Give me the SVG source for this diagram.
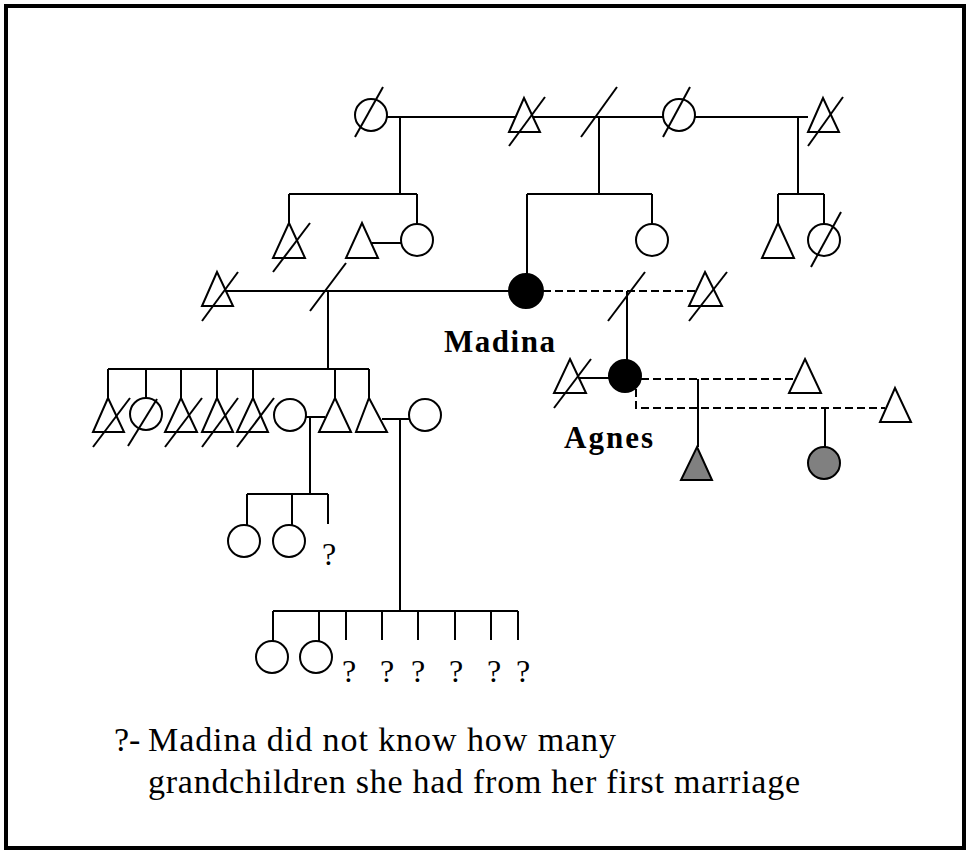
<svg xmlns="http://www.w3.org/2000/svg" width="969" height="852" viewBox="0 0 969 852">
<style>
.ln{stroke:#000;stroke-width:2;fill:none}
.dash{stroke:#000;stroke-width:2;fill:none;stroke-dasharray:8,4}
.nd{stroke:#000;stroke-width:2;fill:#fff}
.blk{stroke:#000;stroke-width:2;fill:#000}
.gry{stroke:#000;stroke-width:2;fill:#808080}
.sl{stroke:#000;stroke-width:2}
.lbl{font-family:"Liberation Serif",serif;font-weight:bold;font-size:31px;fill:#000}
.q{font-family:"Liberation Serif",serif;font-size:32px;fill:#000;text-anchor:middle}
.cap{font-family:"Liberation Serif",serif;font-size:34px;fill:#000}
</style>
<rect x="6" y="6" width="958" height="842" fill="#fff" stroke="#000" stroke-width="4"/>
<g id="connectors">
  <path class="ln" d="M387,117 H808"/>
  <path class="ln" d="M400,117 V194 M289,194 H417 M289,194 V223 M417,194 V224"/>
  <path class="ln" d="M599,117 V194 M527,194 H652 M527,194 V274 M652,194 V224"/>
  <path class="ln" d="M798,117 V194 M778,194 H824 M778,194 V223 M824,194 V224"/>
  <path class="ln" d="M372,243 H401"/>
  <line class="sl" x1="581" y1="137" x2="617" y2="87"/>
  <path class="ln" d="M220,291 H510"/>
  <line class="sl" x1="310" y1="311" x2="346" y2="263"/>
  <path class="ln" d="M328,291 V369 M108,369 H369"/>
  <path class="ln" d="M108,369 V398 M146,369 V398 M181,369 V398 M217,369 V398 M253,369 V398 M335,369 V398 M369,369 V398"/>
  <path class="dash" d="M543,291 H697"/>
  <line class="sl" x1="608" y1="321" x2="645" y2="272"/>
  <path class="ln" d="M627,291 V360"/>
  <path class="ln" d="M577,378 H609"/>
  <path class="dash" d="M641,379 H800"/>
  <path class="ln" d="M698,379 V447"/>
  <path class="dash" d="M636,389 V408 H885"/>
  <path class="ln" d="M825,408 V447"/>
  <path class="ln" d="M305,417 H325 M310,417 V494 M247,494 H328 M247,494 V525 M292,494 V525 M328,494 V524"/>
  <path class="ln" d="M382,419 H410 M400,419 V611 M273,611 H518"/>
  <path class="ln" d="M273,611 V641 M319,611 V641 M346,611 V640 M382,611 V640 M418,611 V640 M455,611 V640 M491,611 V640 M518,611 V640"/>
</g>
<g id="gp1"><circle class="nd" cx="371" cy="115" r="16"/><line class="sl" x1="355" y1="137" x2="383" y2="87"/></g>
<g id="gp2"><polygon class="nd" points="524,98 540,132 509,132"/><line class="sl" x1="509" y1="146" x2="545" y2="97"/></g>
<g id="gp3"><circle class="nd" cx="679" cy="115" r="16"/><line class="sl" x1="663" y1="137" x2="690" y2="87"/></g>
<g id="gp4"><polygon class="nd" points="823,98 839,132 808,132"/><line class="sl" x1="808" y1="146" x2="843" y2="97"/></g>
<g id="p1"><polygon class="nd" points="289,223 305,258 273,258"/><line class="sl" x1="273" y1="272" x2="310" y2="223"/></g>
<g id="p2"><polygon class="nd" points="362,223 378,258 346,258"/></g>
<g id="p3"><circle class="nd" cx="417" cy="240" r="16"/></g>
<g id="p4"><circle class="nd" cx="652" cy="240" r="16"/></g>
<g id="p5"><polygon class="nd" points="778,223 794,258 762,258"/></g>
<g id="p6"><circle class="nd" cx="824" cy="240" r="16"/><line class="sl" x1="811" y1="267" x2="841" y2="212"/></g>
<g id="husband1"><polygon class="nd" points="217,272 233,306 202,306"/><line class="sl" x1="202" y1="321" x2="238" y2="272"/></g>
<g id="madina"><circle class="blk" cx="526" cy="291" r="17"/><text class="lbl" x="444" y="352" textLength="111" lengthAdjust="spacing">Madina</text></g>
<g id="husband2"><polygon class="nd" points="705,272 722,306 689,306"/><line class="sl" x1="689" y1="321" x2="727" y2="272"/></g>
<g id="agnes"><circle class="blk" cx="625" cy="376" r="16"/><text class="lbl" x="564" y="448" textLength="89" lengthAdjust="spacing">Agnes</text></g>
<g id="agnesH1"><polygon class="nd" points="570,359 586,393 554,393"/><line class="sl" x1="554" y1="408" x2="591" y2="359"/></g>
<g id="agnesH2"><polygon class="nd" points="805,359 821,393 789,393"/></g>
<g id="agnesH3"><polygon class="nd" points="895,388 911,422 880,422"/></g>
<g id="agnesC1"><polygon class="gry" points="697,447 712,480 681,480"/></g>
<g id="agnesC2"><circle class="gry" cx="824" cy="463" r="16"/></g>
<g id="c1"><polygon class="nd" points="108,398 124,432 93,432"/><line class="sl" x1="93" y1="447" x2="130" y2="398"/></g>
<g id="c2"><circle class="nd" cx="146" cy="414" r="16"/><line class="sl" x1="128" y1="446" x2="157" y2="399"/></g>
<g id="c3"><polygon class="nd" points="181,398 197,432 165,432"/><line class="sl" x1="165" y1="447" x2="202" y2="398"/></g>
<g id="c4"><polygon class="nd" points="217,398 233,432 202,432"/><line class="sl" x1="202" y1="447" x2="238" y2="398"/></g>
<g id="c5"><polygon class="nd" points="253,398 268,432 237,432"/><line class="sl" x1="237" y1="447" x2="274" y2="398"/></g>
<g id="c6"><circle class="nd" cx="290" cy="415" r="16"/></g>
<g id="c7"><polygon class="nd" points="335,398 351,432 319,432"/></g>
<g id="c8"><polygon class="nd" points="369,398 387,432 356,432"/></g>
<g id="c9"><circle class="nd" cx="425" cy="415" r="16"/></g>
<g id="g1"><circle class="nd" cx="244" cy="541" r="16"/></g>
<g id="g2"><circle class="nd" cx="289" cy="541" r="16"/></g>
<g id="g3"><text class="q" x="329" y="565">?</text></g>
<g id="g4"><circle class="nd" cx="272" cy="657" r="16"/></g>
<g id="g5"><circle class="nd" cx="316" cy="657" r="16"/></g>
<g id="g6"><text class="q" x="349" y="682">?</text></g>
<g id="g7"><text class="q" x="387" y="682">?</text></g>
<g id="g8"><text class="q" x="418" y="682">?</text></g>
<g id="g9"><text class="q" x="456" y="682">?</text></g>
<g id="g10"><text class="q" x="494" y="682">?</text></g>
<g id="g11"><text class="q" x="523" y="682">?</text></g>
<g id="caption">
<text class="cap" x="114" y="751">?-</text>
<text class="cap" x="148" y="751" textLength="468" lengthAdjust="spacing">Madina did not know how many</text>
<text class="cap" x="148" y="793" textLength="652" lengthAdjust="spacing">grandchildren she had from her first marriage</text>
</g>
</svg>
